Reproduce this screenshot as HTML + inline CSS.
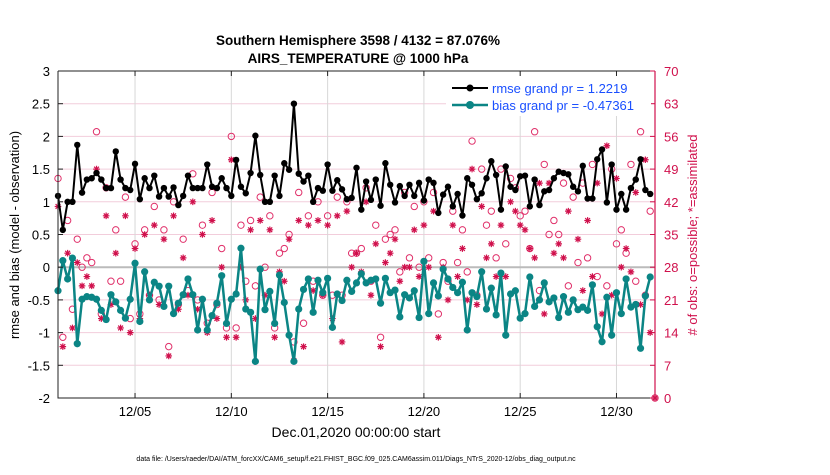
<!DOCTYPE html>
<html><head><meta charset="utf-8"><style>
body{margin:0;background:#fff;font-family:"Liberation Sans",Arial,sans-serif}
svg text{font-family:"Liberation Sans",Arial,sans-serif}
</style></head><body>
<svg id="chart" width="830" height="470" viewBox="0 0 830 470" xmlns="http://www.w3.org/2000/svg">
<rect width="830" height="470" fill="#fff"/>
<text x="358" y="45" text-anchor="middle" font-size="13.5" font-weight="bold">Southern Hemisphere 3598 / 4132 = 87.076%</text>
<text x="358" y="63" text-anchor="middle" font-size="13.5" font-weight="bold">AIRS_TEMPERATURE @ 1000 hPa</text>
<g id="grid"></g>
<g id="marks"></g>
<g id="axes"></g>
<text transform="translate(19,235) rotate(-90)" text-anchor="middle" font-size="13">rmse and bias (model - observation)</text>
<text transform="translate(697,235) rotate(-90)" text-anchor="middle" font-size="13" fill="#d0104c"># of obs: o=possible; *=assimilated</text>
<text x="356" y="437" text-anchor="middle" font-size="14">Dec.01,2020 00:00:00 start</text>
<text x="356" y="461" text-anchor="middle" font-size="7">data file: /Users/raeder/DAI/ATM_forcXX/CAM6_setup/f.e21.FHIST_BGC.f09_025.CAM6assim.011/Diags_NTrS_2020-12/obs_diag_output.nc</text>
<g>
<rect x="446" y="76" width="205" height="40" fill="#fff"/>
<line x1="452" y1="88" x2="488" y2="88" stroke="#000" stroke-width="2"/><circle cx="470" cy="88" r="3.5" fill="#000"/>
<text x="492" y="93" font-size="13" fill="#1a4fff">rmse grand pr = 1.2219</text>
<line x1="452" y1="105" x2="488" y2="105" stroke="#0b8585" stroke-width="2.5"/><circle cx="470" cy="105" r="4" fill="#0b8585"/>
<text x="492" y="110" font-size="13" fill="#1a4fff">bias grand pr = -0.47361</text>
</g>
</svg>
<script>
const rmse=[1.09,0.57,1.0,1.0,1.87,1.14,1.34,1.36,1.44,1.34,1.21,1.21,1.77,1.34,1.21,1.18,1.58,1.04,1.36,1.21,1.4,1.08,1.21,1.08,1.22,0.95,1.09,1.4,1.21,1.21,
1.21,1.57,1.23,1.21,1.36,1.21,1.09,1.64,1.23,1.13,1.44,2.01,1.41,1.0,1.0,1.4,1.09,1.59,1.49,2.5,1.43,1.31,1.4,1.0,1.21,1.17,1.57,1.17,1.33,1.19,1.04,
1.06,1.52,0.88,1.31,1.03,1.34,0.94,1.59,1.26,0.99,1.24,1.09,1.26,1.09,1.29,1.02,1.34,1.29,0.83,1.11,1.23,0.93,1.12,0.79,1.36,1.26,1.04,1.13,1.36,1.62,1.41,0.88,1.54,
1.23,1.18,1.39,1.4,0.93,1.34,0.95,1.16,1.18,1.36,1.46,1.44,1.42,1.23,1.16,1.55,1.05,1.05,1.65,1.8,0.99,1.57,0.88,1.12,0.88,1.21,1.34,1.65,1.18,1.12];
const bias=[-0.36,0.1,-0.18,0.14,-1.17,-0.49,-0.45,-0.46,-0.49,-0.66,-0.8,-0.42,-0.53,-0.66,-0.78,-0.49,0.06,-0.83,-0.07,-0.5,-0.23,-0.29,-0.6,-0.29,-0.71,-0.55,-0.42,-0.18,-0.42,-0.96,
-0.49,-0.96,-0.74,-0.55,-0.13,-0.86,-0.49,-0.41,0.29,-0.64,-0.69,-1.44,-0.03,-0.65,-0.37,-0.86,-0.12,-0.54,-1.04,-1.44,-0.64,-0.34,-0.18,-0.69,-0.2,-0.39,-0.17,-0.92,-0.41,-0.51,-0.2,
-0.37,-0.24,-0.1,-0.24,-0.2,-0.18,-0.55,-0.17,-0.39,-0.35,-0.76,-0.42,-0.47,-0.36,-0.77,0.09,-0.71,-0.24,-0.44,-0.03,-0.18,-0.31,-0.39,-0.23,-0.96,-0.39,-0.45,-0.07,-0.64,-0.32,-0.73,-0.09,-1.04,
-0.41,-0.36,-0.78,-0.71,-0.15,-0.6,-0.5,-0.24,-0.53,-0.47,-0.77,-0.45,-0.69,-0.5,-0.65,-0.61,-0.66,-0.27,-0.91,-1.14,-0.46,-1.04,-0.39,-0.71,-0.18,-0.61,-0.57,-1.24,-0.44,-0.15];
const possible=[47,13,38,19,34,28,30,29,57,18,45,25,36,25,43,17,33,18,36,22,41,21,36,11,42,20,34,23,48,21,
37,16,44,20,32,15,56,15,37,25,38,24,43,28,39,15,31,32,35,12,44,16,39,25,42,22,39,22,43,22,42,
31,31,32,45,25,37,13,34,35,36,27,44,30,41,28,42,30,44,18,29,25,40,29,36,27,55,22,49,37,40,30,49,33,
47,45,39,40,32,57,23,50,35,38,35,46,24,43,29,46,30,50,26,63,24,49,33,36,31,50,25,57,22,40,0];
const assimilated=[41,11,31,15,29,24,26,24,49,17,39,20,31,15,39,14,32,17,35,22,37,20,34,9,39,19,30,22,42,19,
35,14,38,17,28,13,51,13,28,21,36,17,38,22,36,13,27,25,34,8,38,11,37,23,38,22,37,17,39,12,40,
28,31,27,42,22,33,11,29,31,34,25,28,28,36,26,37,28,40,13,28,21,37,26,32,21,49,20,41,30,33,26,37,26,
42,40,37,36,32,30,46,18,46,31,33,30,40,21,34,23,38,26,46,18,54,22,47,28,32,27,44,20,51,14,0];
const xTickDays=[4,9,14,19,24,29];
const xTickLabels=["12/05","12/10","12/15","12/20","12/25","12/30"];
const yLeftTicks=[-2,-1.5,-1,-0.5,0,0.5,1,1.5,2,2.5,3];
const yRightTicks=[0,7,14,21,28,35,42,49,56,63,70];

const L=58,R=655,T=71,B=398;
const xDay=d=>L+(d/31)*(R-L);
const yL=v=>B-(v+2)/5*(B-T);
const yR=n=>B-n/70*(B-T);
const NS="http://www.w3.org/2000/svg";
function mk(p,tag,at){const e=document.createElementNS(NS,tag);for(const k in at)e.setAttribute(k,at[k]);p.appendChild(e);return e;}
const grid=document.getElementById('grid'),marks=document.getElementById('marks'),axes=document.getElementById('axes');

yRightTicks.forEach(n=>{const l=mk(grid,'line',{x1:L,x2:R,y1:yR(n),y2:yR(n),stroke:'#f2cddb','stroke-width':1});

});
xTickDays.forEach(d=>{const l=mk(grid,'line',{x1:xDay(d),x2:xDay(d),y1:T,y2:B,stroke:'#d8d8d8','stroke-width':1});

});
const z=mk(grid,'line',{x1:L,x2:R,y1:yL(0),y2:yL(0),stroke:'#bbbbbb','stroke-width':2});



const px=i=>xDay(i*0.25);
// obs markers
possible.forEach((n,i)=>{const c=mk(marks,'circle',{cx:px(i),cy:yR(n),r:3.2,fill:'none',stroke:'#e0306a','stroke-width':1});

});
assimilated.forEach((n,i)=>{const x=px(i),y=yR(n),s=3.3;
const g=mk(marks,'path',{d:`M${x-s},${y}H${x+s}M${x},${y-s}V${y+s}M${x-2.4},${y-2.4}L${x+2.4},${y+2.4}M${x-2.4},${y+2.4}L${x+2.4},${y-2.4}`,stroke:'#d0104c','stroke-width':1.2});

});
// lines
function series(arr,color,w,r,name){
 const pl=mk(marks,'polyline',{points:arr.map((v,i)=>px(i)+','+yL(v)).join(' '),fill:'none',stroke:color,'stroke-width':w,'stroke-linejoin':'round'});
 
 
 arr.forEach((v,i)=>{const c=mk(marks,'circle',{cx:px(i),cy:yL(v),r:r,fill:color});
 
 });
}
series(bias,'#0b8585',2.5,3.6,'bias');
series(rmse,'#000',2,3.2,'rmse');

// axes
const f=mk(axes,'path',{d:`M${L},${T}V${B}H${R}M${L},${T}H${R}`,fill:'none',stroke:'#222','stroke-width':1});


const ra=mk(axes,'line',{x1:R,x2:R,y1:T,y2:B,stroke:'#d0104c','stroke-width':1.2});


yLeftTicks.forEach(v=>{const t=mk(axes,'text',{x:L-8,y:yL(v)+5,'text-anchor':'end','font-size':13});t.textContent=String(v);


mk(axes,'line',{x1:L,x2:L+5,y1:yL(v),y2:yL(v),stroke:'#222'});});
yRightTicks.forEach(n=>{const t=mk(axes,'text',{x:R+9,y:yR(n)+5,'font-size':13,fill:'#d0104c'});t.textContent=String(n);


mk(axes,'line',{x1:R-5,x2:R,y1:yR(n),y2:yR(n),stroke:'#d0104c'});});
xTickDays.forEach((d,i)=>{const t=mk(axes,'text',{x:xDay(d),y:416,'text-anchor':'middle','font-size':13});t.textContent=xTickLabels[i];


mk(axes,'line',{x1:xDay(d),x2:xDay(d),y1:B,y2:B-5,stroke:'#222'});
mk(axes,'line',{x1:xDay(d),x2:xDay(d),y1:T,y2:T+5,stroke:'#222'});});
</script>
</body></html>
